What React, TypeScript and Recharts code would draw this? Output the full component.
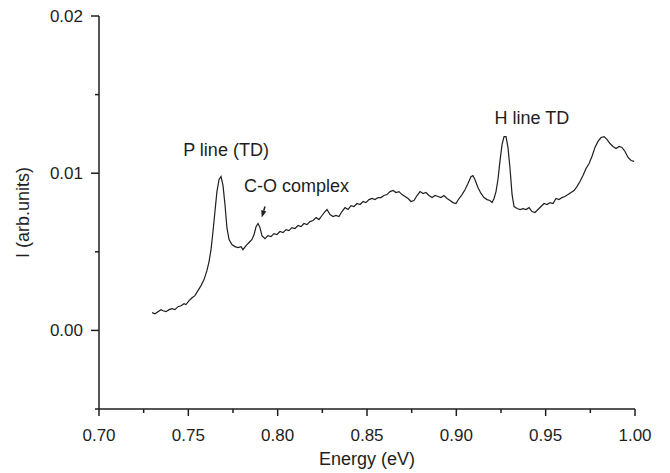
import React from 'react';
import { LineChart, Line, XAxis, YAxis, ReferenceDot, ReferenceLine, Label } from 'recharts';

const energy = [
  0.7297, 0.7313, 0.7330, 0.7347, 0.7358, 0.7375, 0.7392, 0.7409, 0.7425, 0.7442,
  0.7459, 0.7476, 0.7487, 0.7504, 0.7521, 0.7537, 0.7554, 0.7571, 0.7588, 0.7604,
  0.7616, 0.7627, 0.7638, 0.7649, 0.7660, 0.7672, 0.7683, 0.7694, 0.7705, 0.7716,
  0.7728, 0.7744, 0.7761, 0.7778, 0.7795, 0.7806, 0.7823, 0.7840, 0.7856, 0.7868,
  0.7879, 0.7890, 0.7901, 0.7912, 0.7929, 0.7946, 0.7963, 0.7979, 0.7996, 0.8013,
  0.8030, 0.8047, 0.8063, 0.8080, 0.8097, 0.8114, 0.8131, 0.8147, 0.8164, 0.8181,
  0.8198, 0.8215, 0.8231, 0.8248, 0.8265, 0.8276, 0.8293, 0.8310, 0.8326, 0.8343,
  0.8360, 0.8377, 0.8394, 0.8410, 0.8427, 0.8444, 0.8461, 0.8478, 0.8494, 0.8511,
  0.8528, 0.8545, 0.8562, 0.8578, 0.8595, 0.8612, 0.8629, 0.8646, 0.8662, 0.8679,
  0.8696, 0.8713, 0.8730, 0.8746, 0.8763, 0.8780, 0.8797, 0.8814, 0.8830, 0.8847,
  0.8864, 0.8881, 0.8897, 0.8914, 0.8931, 0.8948, 0.8965, 0.8981, 0.8998, 0.9015,
  0.9032, 0.9049, 0.9065, 0.9082, 0.9093, 0.9104, 0.9121, 0.9138, 0.9155, 0.9172,
  0.9188, 0.9200, 0.9211, 0.9222, 0.9233, 0.9244, 0.9256, 0.9267, 0.9278, 0.9289,
  0.9300, 0.9312, 0.9323, 0.9340, 0.9357, 0.9373, 0.9390, 0.9407, 0.9424, 0.9440,
  0.9457, 0.9474, 0.9491, 0.9508, 0.9524, 0.9541, 0.9558, 0.9575, 0.9591, 0.9608,
  0.9625, 0.9642, 0.9659, 0.9675, 0.9692, 0.9709, 0.9726, 0.9743, 0.9759, 0.9776,
  0.9793, 0.9810, 0.9827, 0.9843, 0.9860, 0.9877, 0.9894, 0.9911, 0.9927, 0.9944,
  0.9961, 0.9978, 0.9995,
];

const intensity = [
  0.00113, 0.00106, 0.00119, 0.00132, 0.00125, 0.00119, 0.00132, 0.00138, 0.00132, 0.00151,
  0.00157, 0.00170, 0.00164, 0.00189, 0.00208, 0.00221, 0.00253, 0.00285, 0.00323, 0.00380,
  0.00438, 0.00514, 0.00629, 0.00756, 0.00883, 0.00960, 0.00979, 0.00922, 0.00801, 0.00654,
  0.00578, 0.00546, 0.00533, 0.00527, 0.00533, 0.00514, 0.00539, 0.00559, 0.00578, 0.00610,
  0.00660, 0.00680, 0.00654, 0.00603, 0.00584, 0.00603, 0.00597, 0.00616, 0.00610, 0.00629,
  0.00622, 0.00641, 0.00635, 0.00654, 0.00648, 0.00667, 0.00660, 0.00680, 0.00673, 0.00692,
  0.00699, 0.00718, 0.00705, 0.00731, 0.00756, 0.00769, 0.00737, 0.00724, 0.00731, 0.00724,
  0.00756, 0.00781, 0.00769, 0.00794, 0.00788, 0.00807, 0.00801, 0.00820, 0.00813, 0.00832,
  0.00839, 0.00832, 0.00845, 0.00845, 0.00858, 0.00864, 0.00883, 0.00890, 0.00877, 0.00883,
  0.00864, 0.00852, 0.00839, 0.00820, 0.00826, 0.00858, 0.00883, 0.00871, 0.00877, 0.00858,
  0.00845, 0.00858, 0.00852, 0.00845, 0.00858, 0.00839, 0.00826, 0.00813, 0.00807, 0.00839,
  0.00864, 0.00896, 0.00934, 0.00978, 0.00985, 0.00960, 0.00909, 0.00871, 0.00845, 0.00832,
  0.00826, 0.00813, 0.00839, 0.00883, 0.00960, 0.01075, 0.01183, 0.01233, 0.01233, 0.01164,
  0.01036, 0.00864, 0.00788, 0.00775, 0.00769, 0.00775, 0.00769, 0.00781, 0.00756, 0.00750,
  0.00769, 0.00788, 0.00807, 0.00801, 0.00813, 0.00807, 0.00839, 0.00832, 0.00845, 0.00852,
  0.00864, 0.00877, 0.00890, 0.00915, 0.00947, 0.00985, 0.01030, 0.01062, 0.01106, 0.01164,
  0.01202, 0.01227, 0.01233, 0.01215, 0.01189, 0.01170, 0.01157, 0.01170, 0.01164, 0.01138,
  0.01100, 0.01081, 0.01075,
];

const xTicks = [0.7, 0.725, 0.75, 0.775, 0.8, 0.825, 0.85, 0.875, 0.9, 0.925, 0.95, 0.975, 1.0];
const yTicks = [-0.005, 0, 0.005, 0.01, 0.015, 0.02];

const data = energy.map((e, i) => ({ e, v: intensity[i] }));

const FONT = '"Liberation Sans", Arial, Helvetica, sans-serif';
const INK = '#1e1e1e';

const XTick = (props: any) => {
  const { x, y, payload } = props;
  const v = payload.value as number;
  const major = Math.round(v * 1000) % 50 === 0;
  return (
    <g>
      <line x1={x} y1={y} x2={x} y2={y + (major ? 7 : 4)} stroke={INK} strokeWidth={1.5} />
      {major && (
        <text x={x} y={y + 32} textAnchor="middle" fontSize={17} fontFamily={FONT} fill={INK}>
          {v.toFixed(2)}
        </text>
      )}
    </g>
  );
};

const YTick = (props: any) => {
  const { x, y, payload } = props;
  const v = payload.value as number;
  const major = Math.round(v * 1000) % 10 === 0;
  return (
    <g>
      <line x1={x} y1={y} x2={x - (major ? 8 : 4)} y2={y} stroke={INK} strokeWidth={1.5} />
      {major && (
        <text x={x - 16} y={y + 6} textAnchor="end" fontSize={17} fontFamily={FONT} fill={INK}>
          {v.toFixed(2)}
        </text>
      )}
    </g>
  );
};

const XTitle = (props: any) => {
  const vb = props.viewBox;
  return (
    <text x={vb.x + vb.width / 2} y={vb.y + 56} textAnchor="middle" fontSize={18} fontFamily={FONT} fill={INK}>
      Energy (eV)
    </text>
  );
};

const YTitle = (props: any) => {
  const vb = props.viewBox;
  const cx = vb.x + 29;
  const cy = vb.y + vb.height / 2;
  return (
    <text
      x={cx}
      y={cy}
      transform={`rotate(-90 ${cx} ${cy})`}
      textAnchor="middle"
      fontSize={18}
      fontFamily={FONT}
      fill={INK}
    >
      I (arb.units)
    </text>
  );
};

const Arrow = (props: any) => {
  const { x1, y1, x2, y2 } = props;
  const dx = x2 - x1;
  const dy = y2 - y1;
  const len = Math.sqrt(dx * dx + dy * dy) || 1;
  const ux = dx / len;
  const uy = dy / len;
  const hl = 7;
  const hw = 2.6;
  const bx = x2 - ux * hl;
  const by = y2 - uy * hl;
  const pts = `${x2},${y2} ${bx - uy * hw},${by + ux * hw} ${bx + uy * hw},${by - ux * hw}`;
  return (
    <g>
      <line x1={x1} y1={y1} x2={bx} y2={by} stroke={INK} strokeWidth={1.5} />
      <polygon points={pts} fill={INK} />
    </g>
  );
};

const annoStyle = { fontSize: 18, fontFamily: FONT, fill: INK };

export default function App() {
  return (
    <div style={{ position: 'absolute', left: 0, top: 0, background: '#fff' }}>
      <LineChart width={670} height={473} data={data} margin={{ top: 16, right: 35, bottom: 0, left: 0 }}>
        <XAxis
          type="number"
          dataKey="e"
          domain={[0.7, 1.0]}
          ticks={xTicks}
          interval={0}
          allowDataOverflow
          tickSize={0}
          tickMargin={0}
          tickLine={false}
          axisLine={{ stroke: INK, strokeWidth: 1.5 }}
          tick={<XTick />}
          height={64}
        >
          <Label content={<XTitle />} />
        </XAxis>
        <YAxis
          type="number"
          domain={[-0.005, 0.02]}
          ticks={yTicks}
          interval={0}
          allowDataOverflow
          tickSize={0}
          tickMargin={0}
          tickLine={false}
          axisLine={{ stroke: INK, strokeWidth: 1.5 }}
          tick={<YTick />}
          width={99}
        >
          <Label content={<YTitle />} />
        </YAxis>
        <Line
          type="linear"
          dataKey="v"
          stroke={INK}
          strokeWidth={1.2}
          dot={false}
          isAnimationActive={false}
        />
        <ReferenceDot
          x={0.7711}
          y={0.01151}
          r={1}
          fillOpacity={0}
          strokeOpacity={0}
          ifOverflow="visible"
          label={{ value: 'P line (TD)', position: 'center', ...annoStyle }}
        />
        <ReferenceDot
          x={0.7806}
          y={0.00922}
          r={1}
          fillOpacity={0}
          strokeOpacity={0}
          ifOverflow="visible"
          label={{ value: 'C-O complex', position: 'right', offset: 0, ...annoStyle }}
        />
        <ReferenceDot
          x={0.9423}
          y={0.01355}
          r={1}
          fillOpacity={0}
          strokeOpacity={0}
          ifOverflow="visible"
          label={{ value: 'H line TD', position: 'center', ...annoStyle }}
        />
        <ReferenceLine
          segment={[
            { x: 0.7929, y: 0.00788 },
            { x: 0.7911, y: 0.00718 },
          ]}
          ifOverflow="visible"
          shape={<Arrow />}
        />
      </LineChart>
    </div>
  );
}
